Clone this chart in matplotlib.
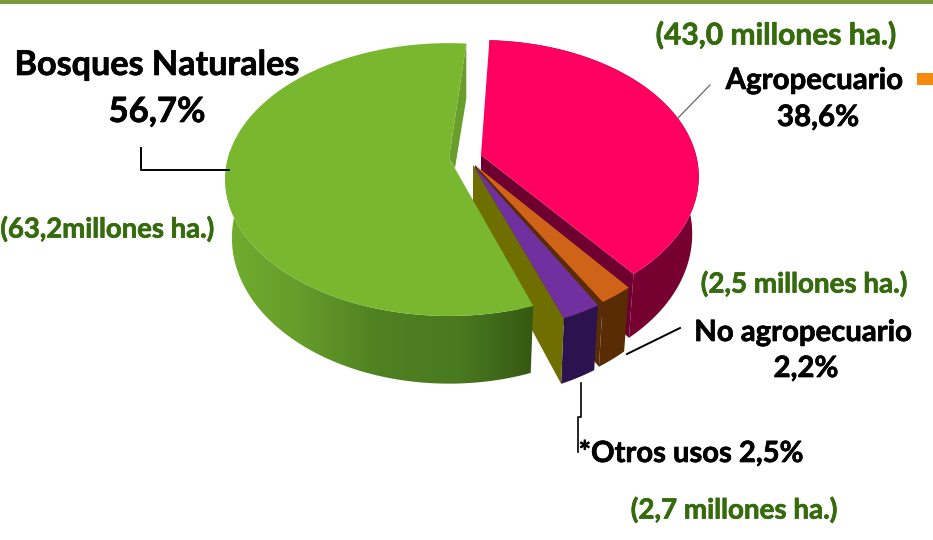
import numpy as np
import matplotlib
matplotlib.use("Agg")
import matplotlib.pyplot as plt
import matplotlib.patheffects as pe
from matplotlib.colors import LinearSegmentedColormap
from matplotlib.patches import Polygon, Rectangle

categories = ["Agropecuario", "No agropecuario", "Otros usos", "Bosques Naturales"]
shares = [38.6, 2.2, 2.5, 56.7]
hectares = ["(43,0 millones ha.)", "(2,5 millones ha.)", "(2,7 millones ha.)", "(63,2millones ha.)"]

W, H = 933, 540
START_ANGLE = 2.6
TILT = 0.158

# apex x, apex y, radius x, radius y, side depth, extra rotation
geometry = [
    (481, 155, 215, 133, 56, 0.0),
    (475, 165, 215, 138, 56, -0.4),
    (473, 165, 215, 140, 56, 0.4),
    (449, 158, 221, 133, 57, 2.6),
]
top_colors = ["#ff0060", "#cf6419", "#7030a0", "#79b72f"]
side_colors = ["#76002f", "#5a2c06", "#2d1250", None]
cut_colors = ["#6e0030", "#5a2c06", "#6f6e00", "#6a9e2c"]


def project(geo, angles):
    """Angles (degrees clockwise from top) to pixels on the top face and on the lower rim."""
    cx, cy, a, b, depth, _ = geo
    t = np.radians(angles)
    s = 1 / (1 + TILT * np.cos(t))
    x = cx + a * np.sin(t) * s
    y = cy - b * np.cos(t) * s
    return np.column_stack([x, y]), np.column_stack([cx + (x - cx) * 0.97, y + depth * s])


def pct(value):
    return f"{value:.1f}%".replace(".", ",")


fig = plt.figure(figsize=(W / 100, H / 100), dpi=100)
ax = fig.add_axes([0, 0, 1, 1])

side_cmap = LinearSegmentedColormap.from_list(
    "green_side", ["#72ad2e", "#659b2a", "#4f8022", "#4a7a20", "#355812"]
)

edges = START_ANGLE + np.cumsum([0] + shares) * 3.6
for i, geo in enumerate(geometry):
    t0 = edges[i] + geo[5]
    t1 = edges[i + 1] + geo[5]
    angles = np.linspace(t0, t1, 200)
    top, low = project(geo, angles)
    apex = np.array([[geo[0], geo[1]]])
    apex_low = apex + [0, geo[4]]

    # outer wall
    wall = np.vstack([top, low[::-1]])
    if side_colors[i] is None:
        patch = Polygon(wall, closed=True, fc="none", ec="none")
        ax.add_patch(patch)
        img = ax.imshow(np.linspace(0, 1, 256).reshape(1, -1), cmap=side_cmap,
                        extent=[225, 535, 390, 150], aspect="auto", zorder=i + 1)
        img.set_clip_path(patch)
    else:
        ax.add_patch(Polygon(wall, closed=True, fc=side_colors[i], ec="none", zorder=i + 1))

    # cut faces: the one at the end of the arc shows for the right hand wedges,
    # the green one only shows as a strip at the back
    if i == 3:
        strip = np.vstack([top[-1], top[-1] + [0, 55], apex + [6, 10], apex])
        ax.add_patch(Polygon(strip, closed=True, fc=cut_colors[i], ec="none", zorder=i + 1))
    else:
        face = np.vstack([apex, top[-1], low[-1], apex_low])
        ax.add_patch(Polygon(face, closed=True, fc=cut_colors[i], ec="none", zorder=i + 1))

    # top face
    ax.add_patch(Polygon(np.vstack([apex, top]), closed=True, fc=top_colors[i], ec="none",
                         zorder=i + 1.5))

# band on top and the stray legend key
ax.add_patch(Rectangle((0, 0), W, 4, fc="#7a9a3c", ec="none", zorder=6))
ax.add_patch(Rectangle((917, 73), 16, 12, fc="#f58a0c", ec="none", zorder=6))

# leader lines
ax.plot([141, 141, 229], [148, 170, 170], color="black", lw=1.4, zorder=7)
ax.plot([678, 710], [118, 85], color="#666666", lw=0.9, zorder=7)
ax.plot([627, 680], [354, 328], color="black", lw=1.4, zorder=7)
ax.plot([581, 581, 578, 578], [383, 417, 417, 452], color="black", lw=1.2, zorder=7)

GREEN = "#356b0c"


def label(x, y, text, size, color="black", ha="center"):
    t = ax.text(x, y, text, fontsize=size, color=color, ha=ha, va="center",
                family="Lato", fontweight="bold", zorder=8)
    # the original face is heavier than Lato Bold
    t.set_path_effects([pe.withStroke(linewidth=0.5, foreground=color)])


label(157, 65, categories[3], 24.6)
label(157, 112, pct(shares[3]), 25)
label(107, 229, hectares[3], 19.8, GREEN)

label(776, 35, hectares[0], 21.6, GREEN)
label(814, 81, categories[0], 21.2)
label(818, 118, pct(shares[0]), 21.2)

label(804, 284, hectares[1], 20, GREEN)
label(803, 333, categories[1], 21.1)
label(806, 369, pct(shares[1]), 21.1)

label(691, 454, "*" + categories[2] + " " + pct(shares[2]), 21)
label(734, 510, hectares[2], 20, GREEN)

ax.set_xlim(0, W)
ax.set_ylim(H, 0)
ax.axis("off")

fig.savefig("out.png", dpi=100)
